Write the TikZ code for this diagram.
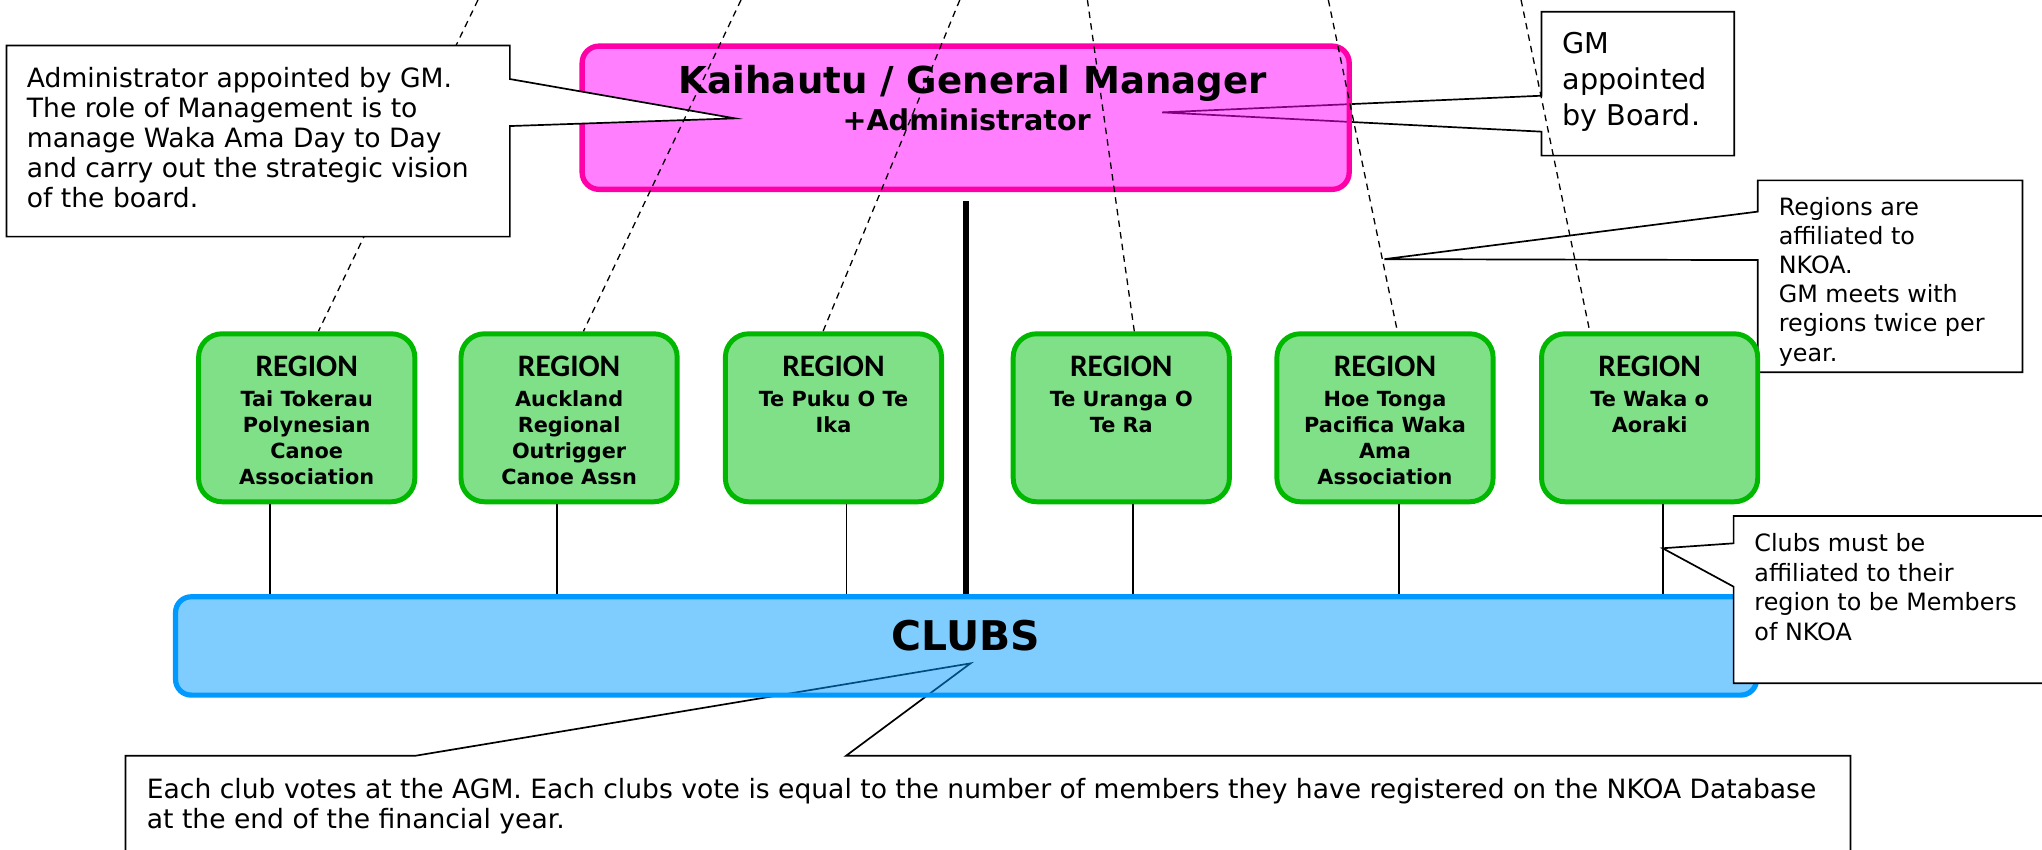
\documentclass[tikz,border=0pt]{standalone}
\usepackage{fontspec}
\setmainfont{DejaVu Sans}
\newfontfamily\calibfont{Carlito}
\definecolor{gmborder}{HTML}{FF00A8}
\definecolor{gmfill}{HTML}{FF00FF}
\definecolor{regborder}{HTML}{00B800}
\definecolor{regfill}{HTML}{80E088}
\definecolor{clubborder}{HTML}{0099FF}
\pgfdeclarelayer{back}
\pgfdeclarelayer{front}
\pgfsetlayers{back,main,front}
\newcommand\leftlines[2]{\vtop{\baselineskip=#1\lineskiplimit=-100pt\lineskip=0pt\halign{##\hfil\cr#2\crcr}}}
\newcommand\centerlines[2]{\vtop{\baselineskip=#1\lineskiplimit=-100pt\lineskip=0pt\halign{\hfil##\hfil\cr#2\crcr}}}
\tikzset{
  callout/.style={draw=black, line width=1.3pt, fill=white, line join=miter},
  dashlink/.style={black, line width=1pt, dash pattern=on 5pt off 4pt},
  regionbox/.style={draw=regborder, fill=regfill, line width=3.8pt, rounded corners=18pt,
    minimum width=166pt, minimum height=129pt, inner sep=0pt},
  gmbox/.style={draw=gmborder, fill=gmfill, fill opacity=0.5, line width=4.1pt, rounded corners=13pt,
    minimum width=589pt, minimum height=110pt, inner sep=0pt},
  clubbox/.style={draw=clubborder, fill=clubborder, fill opacity=0.5, line width=4pt, rounded corners=12pt,
    minimum width=1214pt, minimum height=75.5pt, inner sep=0pt},
  txt/.style={inner sep=0pt, anchor=base west},
  ctxt/.style={inner sep=0pt, anchor=base},
  regionhead/.style={ctxt, font=\calibfont\bfseries\fontsize{24}{26}\selectfont},
  regiontext/.style={ctxt, font=\bfseries\fontsize{16}{19.6}\selectfont},
  thinlink/.style={line width=1.5pt},
  thicklink/.style={line width=4.5pt},
}
\begin{document}
\begin{tikzpicture}[x=1pt,y=-1pt]
\useasboundingbox (0,0) rectangle (1568,652);

% ---------- main layer: boxes ----------
\node[gmbox] (gm) at (741.5,90.4) {};
\node[ctxt, font=\bfseries\fontsize{28.5}{32}\selectfont] (gmtitle) at (747,72) {Kaihautu / General Manager};
\node[ctxt, font=\bfseries\fontsize{22}{26}\selectfont] (gmsub) at (742.3,100.5) {+Administrator};

\node[regionbox] (r1) at (235.5,320.8) {};
\node[regionbox] (r2) at (437,320.8) {};
\node[regionbox] (r3) at (640,320.8) {};
\node[regionbox] (r4) at (861,320.8) {};
\node[regionbox] (r5) at (1063.5,320.8) {};
\node[regionbox] (r6) at (1266.7,320.8) {};

\foreach \r/\x in {r1/235.5, r2/437, r3/640, r4/861, r5/1063.5, r6/1266.7}{
  \node[regionhead] (\r h) at (\x,289) {REGION};
}
\node[regiontext] (r1t) at (235.5,312.5) {\centerlines{19.8pt}{Tai Tokerau\cr Polynesian\cr Canoe\cr Association}};
\node[regiontext] (r2t) at (437,312.5) {\centerlines{19.8pt}{Auckland\cr Regional\cr Outrigger\cr Canoe Assn}};
\node[regiontext] (r3t) at (640,312.5) {\centerlines{19.8pt}{Te Puku O Te\cr Ika}};
\node[regiontext] (r4t) at (861,312.5) {\centerlines{19.8pt}{Te Uranga O\cr Te Ra}};
\node[regiontext] (r5t) at (1063.5,312.5) {\centerlines{19.8pt}{Hoe Tonga\cr Pacifica Waka\cr Ama\cr Association}};
\node[regiontext] (r6t) at (1266.7,312.5) {\centerlines{19.8pt}{Te Waka o\cr Aoraki}};

\node[clubbox] (clubs) at (741.8,496) {};
\node[ctxt, font=\bfseries\fontsize{31.4}{36}\selectfont] (clubst) at (741.5,499.5) {CLUBS};

% connectors
\draw[thicklink] ([yshift=-7pt]gm.south) -- (gm.south |- clubs.north);
\draw[thinlink] ([xshift=-28pt]r1.south) -- ([xshift=-28pt]r1.south |- clubs.north);
\draw[thinlink] ([xshift=-9pt]r2.south) -- ([xshift=-9pt]r2.south |- clubs.north);
\draw[thinlink] ([xshift=10pt]r3.south) -- ([xshift=10pt]r3.south |- clubs.north);
\draw[thinlink] ([xshift=9pt]r4.south) -- ([xshift=9pt]r4.south |- clubs.north);
\draw[thinlink] ([xshift=10.5pt]r5.south) -- ([xshift=10.5pt]r5.south |- clubs.north);
\draw[thinlink] ([xshift=10pt]r6.south) -- ([xshift=10pt]r6.south |- clubs.north);

% ---------- back layer ----------
\begin{pgfonlayer}{back}
  % dashed link 1 (hidden behind the left callout)
  \coordinate (d1) at (367,0);
  \draw[dashlink] (d1) -- ([xshift=9pt]r1.north);
  % GM callout
  \coordinate (tipB) at (892.3,86.3);
  \draw[callout] (1183.7,9) -- (1331.7,9) -- (1331.7,119.5) -- (1183.7,119.5) -- (1183.7,101.1)
     -- (tipB) -- (1183.7,73.5) -- cycle;
  \node[txt, font=\fontsize{22}{27}\selectfont] (gmnote) at (1199.6,41.2)
     {\leftlines{27.4pt}{GM\cr appointed\cr by Board.}};
  % Regions callout
  \coordinate (tipR) at (1063,199);
  \draw[callout] (1349.7,138.5) -- (1553,138.5) -- (1553,285.9) -- (1349.7,285.9) -- (1349.7,199.7)
     -- (tipR) -- (1349.7,162.5) -- cycle;
  \node[txt, font=\fontsize{18.3}{22}\selectfont] (regnote) at (1365.7,165.3)
     {\leftlines{22.4pt}{Regions are\cr affiliated to\cr NKOA.\cr GM meets with\cr regions twice per\cr year.}};
  % bottom callout
  \coordinate (tipV) at (745.2,509.4);
  \draw[callout] (96.4,580.3) -- (319.2,580.3) -- (tipV) -- (649.7,580.3) -- (1421,580.3)
     -- (1421,662) -- (96.4,662) -- cycle;
  \node[txt, font=\fontsize{20.4}{23}\selectfont] (votenote) at (112.6,613)
     {\leftlines{23pt}{Each club votes at the AGM. Each clubs vote is equal to the number of members they have registered on the NKOA Database\cr at the end of the financial year.}};
\end{pgfonlayer}

% ---------- callouts over boxes ----------
\coordinate (tipA) at (564.4,90.9);
\draw[callout] (5,35) -- (391.5,35) -- (391.5,60.7) -- (tipA) -- (391.5,96.8) -- (391.5,181.7)
   -- (5,181.7) -- cycle;
\node[txt, font=\fontsize{20.4}{23}\selectfont] (adminnote) at (20.5,67)
   {\leftlines{23pt}{Administrator appointed by GM.\cr The role of Management is to\cr manage Waka Ama Day to Day\cr and carry out the strategic vision\cr of the board.}};

\coordinate (tipC) at (1276.7,421);
\draw[callout] (1331.2,396.2) -- (1576,396.2) -- (1576,524.7) -- (1331.2,524.7) -- (1331.2,450.5)
   -- (tipC) -- (1331.2,417.2) -- cycle;
\node[txt, font=\fontsize{18.3}{22}\selectfont] (clubnote) at (1347,423.5)
   {\leftlines{22.8pt}{Clubs must be\cr affiliated to their\cr region to be Members\cr of NKOA}};

% ---------- front layer: dashed links ----------
\begin{pgfonlayer}{front}
  \coordinate (d2) at (569,0);
  \coordinate (d3) at (737,0);
  \coordinate (d4) at (835,0);
  \coordinate (d5) at (1020,0);
  \coordinate (d6) at (1168,0);
  \draw[dashlink] (d2) -- ([xshift=11pt]r2.north);
  \draw[dashlink] (d3) -- ([xshift=-8pt]r3.north);
  \draw[dashlink] (d4) -- ([xshift=10pt]r4.north);
  \draw[dashlink] (d5) -- ([xshift=9.5pt]r5.north);
  \draw[dashlink] (d6) -- ([xshift=-46pt]r6.north);
\end{pgfonlayer}
\end{tikzpicture}
\end{document}
